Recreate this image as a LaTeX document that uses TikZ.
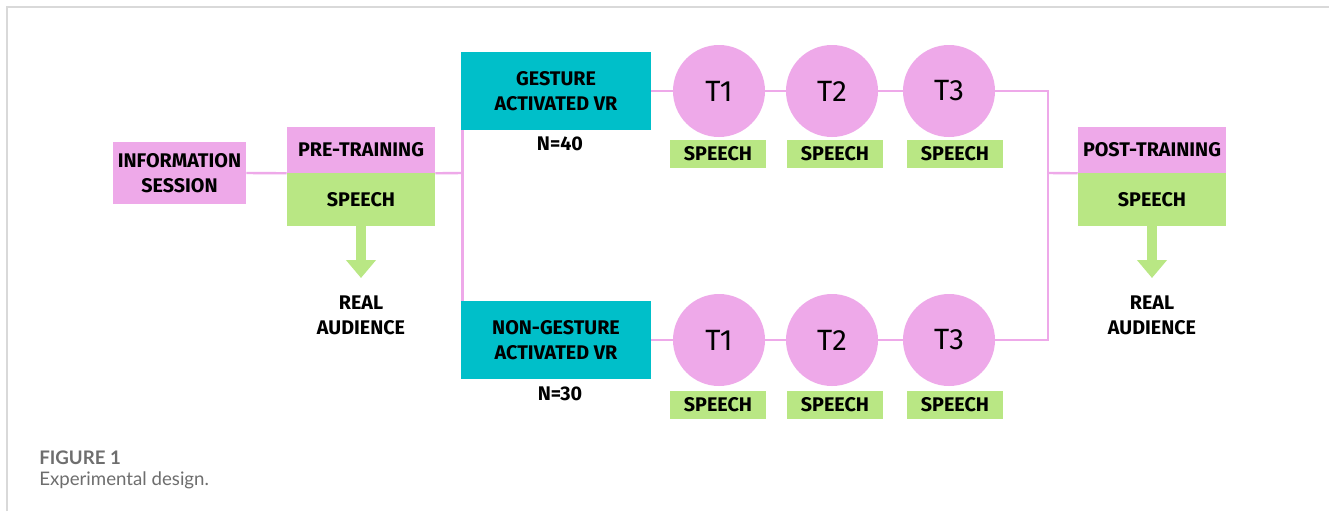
\documentclass[tikz,border=0pt]{standalone}
\usepackage{fontspec}
\setmainfont{Fira Sans}
\newfontfamily\capfont{Lato}
\usetikzlibrary{arrows.meta}

\definecolor{orchid}{HTML}{EEA9E9}
\definecolor{lime}{HTML}{B9E784}
\definecolor{teal}{HTML}{00BFC9}
\definecolor{rulegray}{HTML}{D9D9D9}
\definecolor{capgray}{HTML}{6E6E6E}

\def\pxu{0.75pt}

\tikzset{
  box/.style={rectangle, inner sep=0pt, align=center,
    font=\fontsize{14.8}{18.75}\selectfont\bfseries, text=black},
  pinkbox/.style={box, fill=orchid},
  greenbox/.style={box, fill=lime},
  tealbox/.style={box, fill=teal, minimum width=190*\pxu, minimum height=78*\pxu},
  sessionbox/.style={circle, fill=orchid, inner sep=0pt, minimum size=92*\pxu,
    font=\fontsize{22}{24}\selectfont},
  speechtag/.style={greenbox, minimum width=96*\pxu, minimum height=28*\pxu},
  label/.style={align=center, inner sep=0pt,
    font=\fontsize{14.8}{18.75}\selectfont\bfseries},
  link/.style={draw=orchid, line width=2.4*\pxu},
  outflow/.style={draw=lime, line width=10*\pxu,
    -{Triangle[length=18*\pxu, width=29*\pxu]}},
}

\begin{document}
\begin{tikzpicture}[x=\pxu, y=-\pxu]
\useasboundingbox (0,0) rectangle (1329,511);
\fill[white] (0,0) rectangle (1329,511);

% frame rules
\draw[rulegray, line width=1.5*\pxu] (7,511) -- (7,7) -- (1329,7);

% start of the study
\node[pinkbox, minimum width=133*\pxu, minimum height=62*\pxu] (info) at (179.5,173) {INFORMATION\\SESSION};

\node[pinkbox, minimum width=148*\pxu, minimum height=46*\pxu] (pre) at (361,150) {PRE-TRAINING};
\node[greenbox, minimum width=148*\pxu, minimum height=53*\pxu] (prespeech) at (361,199.5) {SPEECH};
\coordinate (pretip) at (361,278);
\node[label] (preaud) at (361,315) {REAL\\AUDIENCE};

% the two training groups
\node[tealbox] (gest) at (556,91) {GESTURE\\ACTIVATED VR};
\node[label] (n40) at (560,144) {N=40};
\node[tealbox] (ngest) at (556,340) {NON-GESTURE\\ACTIVATED VR};
\node[label] (n30) at (560,394) {N=30};

\node[sessionbox] (ga) at (719,91) {T1};
\node[sessionbox] (gb) at (832,91) {T2};
\node[sessionbox] (gc) at (949,91) {T3};
\node[speechtag] (gas) at (718,154) {SPEECH};
\node[speechtag] (gbs) at (835,154) {SPEECH};
\node[speechtag] (gcs) at (955,154) {SPEECH};

\node[sessionbox] (na) at (719,340) {T1};
\node[sessionbox] (nb) at (832,340) {T2};
\node[sessionbox] (nc) at (949,340) {T3};
\node[speechtag] (nas) at (718,405) {SPEECH};
\node[speechtag] (nbs) at (835,405) {SPEECH};
\node[speechtag] (ncs) at (955,405) {SPEECH};

% end of the study
\node[pinkbox, minimum width=148*\pxu, minimum height=46*\pxu] (post) at (1152,150) {POST-TRAINING};
\node[greenbox, minimum width=148*\pxu, minimum height=53*\pxu] (postspeech) at (1152,199.5) {SPEECH};
\coordinate (posttip) at (1152,278);
\node[label] (postaud) at (1152,315) {REAL\\AUDIENCE};

% junctions
\coordinate (split) at (462.5,173);
\coordinate (join) at (1048,173);

% connectors
\draw[link] (info.east) -- (pre.south west);
\draw[link] (pre.south east) -- (split);
\draw[link] (gest.south -| split) -- (ngest.north -| split);

\draw[link] (gest.east) -- (ga.west);
\draw[link] (ga.east) -- (gb.west);
\draw[link] (gb.east) -- (gc.west);
\draw[link] (na.west -| ngest.east) -- (na.west);
\draw[link] (na.east) -- (nb.west);
\draw[link] (nb.east) -- (nc.west);

\draw[link] (gc.east) -- (gc.east -| join) -- (nc.east -| join) -- (nc.east);
\draw[link] (join) -- (post.south west);

\draw[outflow] (prespeech.south) -- (pretip);
\draw[outflow] (postspeech.south) -- (posttip);

% caption
\node[anchor=west, inner sep=0pt, text=capgray, font=\capfont\fontsize{14}{16}\selectfont\bfseries] (fig) at (39,458) {FIGURE 1};
\node[anchor=west, inner sep=0pt, text=capgray, font=\capfont\fontsize{14}{16}\selectfont] (cap) at (39,480) {Experimental design.};
\end{tikzpicture}
\end{document}
